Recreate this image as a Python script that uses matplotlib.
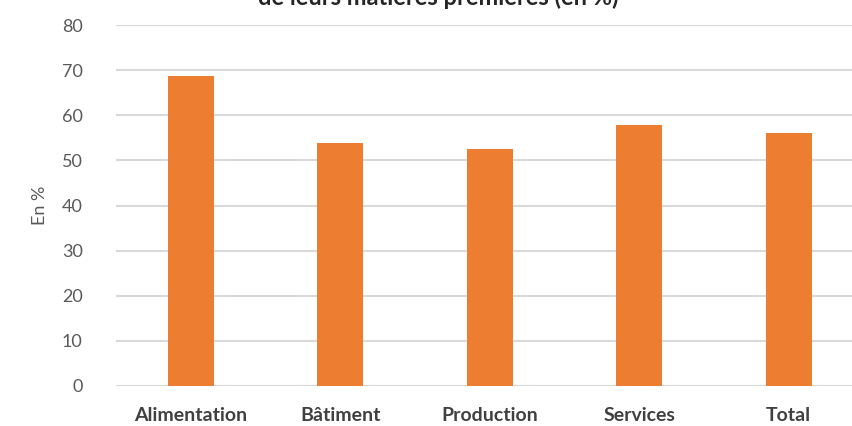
import matplotlib
matplotlib.use("Agg")
import matplotlib.pyplot as plt

categories = ["Alimentation", "Bâtiment", "Production", "Services", "Total"]
values = [68.7, 53.9, 52.6, 57.9, 56.1]
y_ticks = [0, 10, 20, 30, 40, 50, 60, 70, 80]

plt.rcParams['font.family'] = ['Lato', 'DejaVu Sans']

fig = plt.figure(figsize=(8.53, 4.26), dpi=100)
ax = fig.add_axes([116 / 853, 40 / 426, 737 / 853, 361 / 426])

x = range(len(categories))
ax.bar(x, values, width=0.31, color="#ED7D31", zorder=3)

ax.set_ylim(0, 80)
ax.set_xlim(-0.5, -0.5 + 737 / 149.5)
ax.set_yticks(y_ticks)
ax.set_xticks(list(x))
ax.set_xticklabels(categories, fontsize=14, fontweight="bold", color="#404040")
ax.tick_params(axis="y", labelsize=13, labelcolor="#595959", length=0, pad=24)
ax.tick_params(axis="x", length=0, pad=15)
ax.grid(axis="y", color="#d9d9d9", linewidth=1.5, zorder=0)
for s in ax.spines.values():
    s.set_visible(False)

fig.text(40 / 853, (426 - 205) / 426, "En %", rotation=90, fontsize=13,
         color="#595959", ha="center", va="center")
fig.text(438 / 853, 421 / 426, "de leurs matières premières (en %)",
         fontsize=17, fontweight="bold", color="#262626", ha="center", va="baseline")

fig.savefig("out.png", dpi=100)
